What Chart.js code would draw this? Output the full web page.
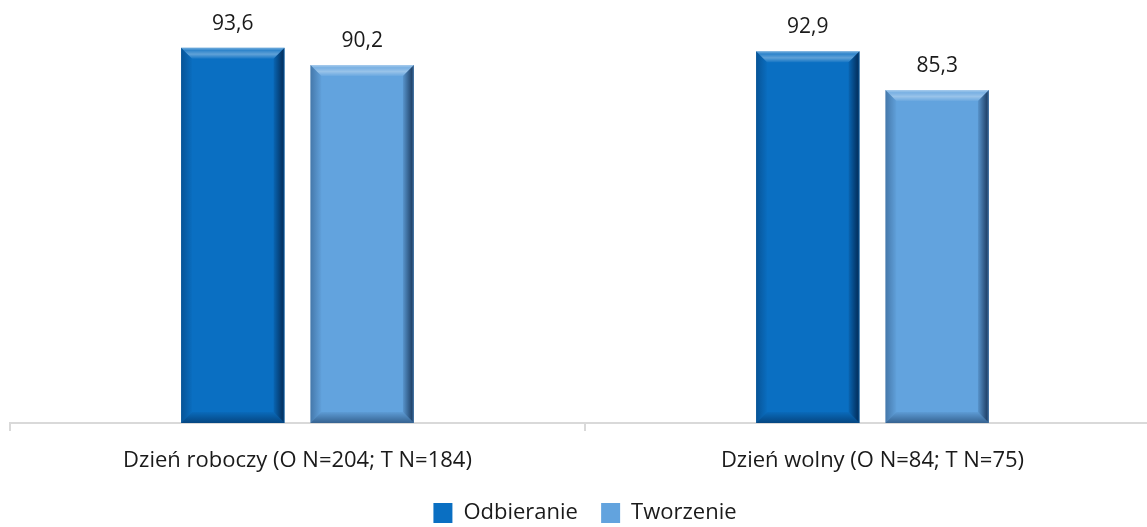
<!DOCTYPE html>
<html>
<head>
<meta charset="utf-8">
<script src="https://cdn.jsdelivr.net/npm/chart.js@4.4.0/dist/chart.umd.min.js"></script>
<style>
  html, body { margin: 0; padding: 0; background: #fff; overflow: hidden; }
  #wrap { width: 1160px; height: 534px; }
</style>
</head>
<body>
<div id="wrap"><canvas id="bar-chart"></canvas></div>
<script>
// dane
var categories = ["Dzień roboczy (O N=204; T N=184)", "Dzień wolny (O N=84; T N=75)"];
var seriesNames = ["Odbieranie", "Tworzenie"];
var odbieranie = [93.6, 92.9];
var tworzenie = [90.2, 85.3];
var colors = ["#0A6FC2", "#62A3DE"];

var FONT = "'Open Sans', sans-serif";

// bevel effect on every bar, like the office-style chart
var bevelPlugin = {
    id: 'bevel',
    afterDatasetsDraw: function(chart) {
        var ctx = chart.ctx;
        var bottom = chart.chartArea.bottom;
        chart.data.datasets.forEach(function(ds, i) {
            chart.getDatasetMeta(i).data.forEach(function(bar) {
                var x0 = bar.x - bar.width / 2, x1 = bar.x + bar.width / 2;
                var y0 = bar.y, y1 = Math.min(bar.base, bottom);
                var b = 11;
                ctx.save();
                // top edge (light)
                var g = ctx.createLinearGradient(0, y0, 0, y0 + b);
                g.addColorStop(0, 'rgba(255,255,255,0.45)');
                g.addColorStop(0.25, 'rgba(255,255,255,0.15)');
                g.addColorStop(0.6, 'rgba(255,255,255,0.35)');
                g.addColorStop(1, 'rgba(255,255,255,0.05)');
                ctx.fillStyle = g;
                ctx.beginPath();
                ctx.moveTo(x0, y0); ctx.lineTo(x1, y0); ctx.lineTo(x1 - b, y0 + b); ctx.lineTo(x0 + b, y0 + b);
                ctx.closePath(); ctx.fill();
                // right edge (dark)
                g = ctx.createLinearGradient(x1 - b, 0, x1, 0);
                g.addColorStop(0, 'rgba(0,20,50,0.1)');
                g.addColorStop(0.8, 'rgba(0,20,50,0.65)');
                g.addColorStop(1, 'rgba(0,20,50,0.35)');
                ctx.fillStyle = g;
                ctx.beginPath();
                ctx.moveTo(x1, y0); ctx.lineTo(x1, y1); ctx.lineTo(x1 - b, y1 - b); ctx.lineTo(x1 - b, y0 + b);
                ctx.closePath(); ctx.fill();
                // bottom edge (dark)
                g = ctx.createLinearGradient(0, y1 - b, 0, y1);
                g.addColorStop(0, 'rgba(0,20,50,0.05)');
                g.addColorStop(1, 'rgba(0,20,50,0.45)');
                ctx.fillStyle = g;
                ctx.beginPath();
                ctx.moveTo(x0, y1); ctx.lineTo(x1, y1); ctx.lineTo(x1 - b, y1 - b); ctx.lineTo(x0 + b, y1 - b);
                ctx.closePath(); ctx.fill();
                // left edge
                g = ctx.createLinearGradient(x0, 0, x0 + b, 0);
                g.addColorStop(0, 'rgba(0,20,50,0.3)');
                g.addColorStop(1, 'rgba(0,20,50,0.02)');
                ctx.fillStyle = g;
                ctx.beginPath();
                ctx.moveTo(x0, y0); ctx.lineTo(x0 + b, y0 + b); ctx.lineTo(x0 + b, y1 - b); ctx.lineTo(x0, y1);
                ctx.closePath(); ctx.fill();
                ctx.restore();
            });
        });
    }
};

// values over bars
var labelPlugin = {
    id: 'valueLabels',
    afterDatasetsDraw: function(chart) {
        var ctx = chart.ctx;
        ctx.save();
        ctx.font = '21px ' + FONT;
        ctx.fillStyle = '#1a1a1a';
        ctx.textAlign = 'center';
        ctx.textBaseline = 'middle';
        chart.data.datasets.forEach(function(ds, i) {
            chart.getDatasetMeta(i).data.forEach(function(bar, j) {
                ctx.fillText(ds.data[j].toFixed(1).replace('.', ','), bar.x, bar.y - 24);
            });
        });
        ctx.restore();
    }
};

var barChart = new Chart(document.getElementById("bar-chart"), {
    type: 'bar',
    data: {
        labels: categories,
        datasets: [
            { label: seriesNames[0], data: odbieranie, backgroundColor: colors[0] },
            { label: seriesNames[1], data: tworzenie, backgroundColor: colors[1] }
        ]
    },
    options: {
        responsive: true,
        maintainAspectRatio: false,
        animation: false,
        categoryPercentage: 0.45,
        barPercentage: 0.8,
        layout: { padding: { left: 10, right: 0, top: 15, bottom: 0 } },
        scales: {
            y: { display: false, min: 20, max: 100 },
            x: {
                border: { color: '#d9d9d9', width: 2 },
                grid: { drawOnChartArea: false, color: '#d9d9d9', tickLength: 8, lineWidth: 2 },
                ticks: { color: '#1a1a1a', font: { family: FONT, size: 22 }, padding: 17 },
                afterFit: function(axis) { axis.height = 73; }
            }
        },
        plugins: {
            legend: {
                position: 'bottom',
                labels: {
                    color: '#1a1a1a',
                    font: { family: FONT, size: 22 },
                    boxWidth: 19, boxHeight: 20, padding: 6,
                    generateLabels: function(chart) {
                        var items = Chart.defaults.plugins.legend.labels.generateLabels(chart);
                        items.forEach(function(it, k) {
                            it.lineWidth = 0;
                            if (k < items.length - 1) it.text = it.text + '   ';
                        });
                        return items;
                    }
                }
            },
            tooltip: { enabled: false }
        }
    },
    plugins: [bevelPlugin, labelPlugin]
});
</script>
</body>
</html>
